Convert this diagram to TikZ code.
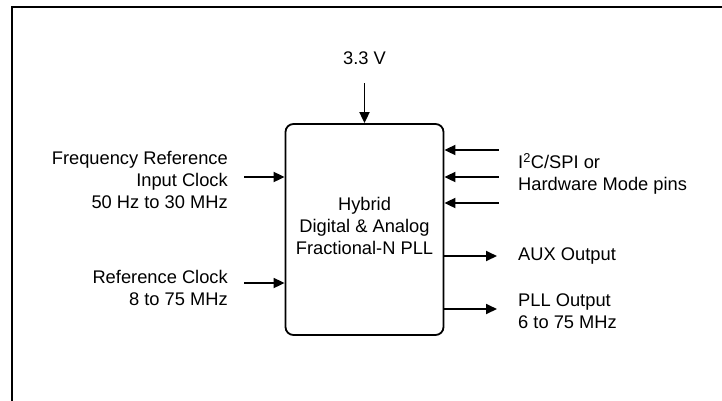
\documentclass[tikz,border=0pt]{standalone}
\usepackage{fontspec}
\setmainfont{Liberation Sans}
\usepackage{xcolor}
\usepackage{tikz}
\usetikzlibrary{calc,arrows.meta}
\definecolor{bg}{HTML}{FFFFFF}
\definecolor{ink}{HTML}{000000}
\tikzset{
  frame/.style={draw=ink, line width=2pt},
  blk/.style={draw=ink, line width=1.8pt, rounded corners=8pt, minimum width=158pt, minimum height=211pt, inner sep=0pt},
  sig/.style={draw=ink, line width=1.8pt, -{Triangle[length=11pt,width=10pt]}},
  lab/.style={text=ink, font=\fontsize{18.3}{22}\selectfont, inner sep=0pt},
}

\begin{document}
\begin{tikzpicture}[x=1pt, y=-1pt]
  \useasboundingbox (0,0) rectangle (722,400);
  \fill[bg] (0,0) rectangle (722,400);
  \draw[frame] (11.5,401) -- (11.5,6.5) -- (723,6.5);
  % main block
  \node[blk] (pll) at (364.5,229.5) {};
  \node[lab, align=center] (pllText) at (364.5,225.5) {Hybrid\\Digital \& Analog\\Fractional-N PLL};
  % supply
  \node[lab] (vdd) at (364.5,58) {3.3 V};
  \coordinate (vddIn) at (364.5,83);
  \draw[sig] (vddIn) -- (vddIn |- pll.north);
  % inputs on the left
  \coordinate (finIn) at (244,177);
  \coordinate (refIn) at (244,283);
  \draw[sig] (finIn) -- (finIn -| pll.west);
  \draw[sig] (refIn) -- (refIn -| pll.west);
  \node[lab, align=right, anchor=east] (finLab) at (228,180) {Frequency Reference\\Input Clock\\50 Hz to 30 MHz};
  \node[lab, align=right, anchor=east] (refLab) at (228,287.5) {Reference Clock\\8 to 75 MHz};
  % control pins on the right
  \foreach \py [count=\i] in {150,177,203}{
    \coordinate (ctl\i) at (498.5,\py);
    \draw[sig] (ctl\i) -- (ctl\i -| pll.east);
  }
  \node[lab, align=left, anchor=west] (ctlLab) at (518,174) {I\textsuperscript{2}C/SPI or\\Hardware Mode pins};
  % outputs
  \coordinate (auxOut) at (497,256);
  \coordinate (pllOut) at (497,309);
  \draw[sig] (auxOut -| pll.east) -- (auxOut);
  \draw[sig] (pllOut -| pll.east) -- (pllOut);
  \node[lab, anchor=west] (auxLab) at (518,256) {AUX Output};
  \node[lab, align=left, anchor=west] (pllLab) at (518,311) {PLL Output\\6 to 75 MHz};
\end{tikzpicture}
\end{document}
